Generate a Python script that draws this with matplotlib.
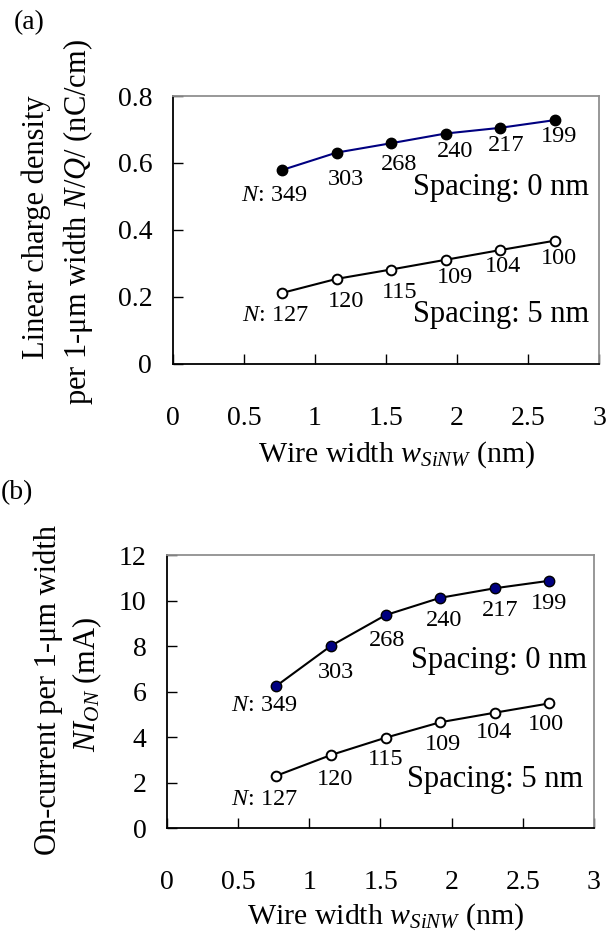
import matplotlib
matplotlib.use("Agg")
import matplotlib.pyplot as plt

plt.rcParams['font.family'] = ['Liberation Serif', 'DejaVu Serif']
plt.rcParams['mathtext.fontset'] = 'custom'
plt.rcParams['mathtext.rm'] = 'Liberation Serif'
plt.rcParams['mathtext.it'] = 'Liberation Serif:italic'

# data
width_nm = [0.768, 1.152, 1.536, 1.92, 2.304, 2.688]
charge_0nm = [0.579, 0.631, 0.659, 0.688, 0.705, 0.728]
charge_5nm = [0.212, 0.254, 0.282, 0.311, 0.340, 0.368]
ion_0nm = [6.25, 8.01, 9.36, 10.12, 10.54, 10.87]
ion_5nm = [2.30, 3.21, 3.97, 4.65, 5.07, 5.48]
n_0nm = ["349", "303", "268", "240", "217", "199"]
n_5nm = ["127", "120", "115", "109", "104", "100"]

x_ticks = [0, 0.5, 1, 1.5, 2, 2.5, 3]
x_ticklabels = ["0", "0.5", "1", "1.5", "2", "2.5", "3"]
ya_ticks = [0, 0.2, 0.4, 0.6, 0.8]
ya_ticklabels = ["0", "0.2", "0.4", "0.6", "0.8"]
yb_ticks = [0, 2, 4, 6, 8, 10, 12]
yb_ticklabels = ["0", "2", "4", "6", "8", "10", "12"]

NAVY = "#000080"

fig = plt.figure(figsize=(6.08, 9.33), dpi=100)
ax1 = fig.add_axes([0.2845, 0.6099, 0.7007, 0.2872])
ax2 = fig.add_axes([0.275, 0.1125, 0.7016, 0.2926])


def style_axes(ax, yticks, yticklabels, ymax):
    ax.set_xlim(0, 3)
    ax.set_ylim(0, ymax)
    ax.set_xticks(x_ticks)
    ax.set_xticklabels(x_ticklabels)
    ax.set_yticks(yticks)
    ax.set_yticklabels(yticklabels)
    ax.tick_params(axis='x', direction='in', length=7, width=1, pad=30, labelsize=20)
    ax.tick_params(axis='y', direction='in', length=7, width=1, pad=15, labelsize=20)
    for s in ['top', 'right']:
        ax.spines[s].set_color('#909090')
        ax.spines[s].set_linewidth(1.3)
    for s in ['left', 'bottom']:
        ax.spines[s].set_color('black')
        ax.spines[s].set_linewidth(1.3)


def label_points(ax, xs, ys, labels, offsets):
    for i, (x, y, lab) in enumerate(zip(xs, ys, labels)):
        txt = r"$N$: " + lab if i == 0 else lab
        ax.annotate(txt, (x, y), xytext=offsets[i], textcoords='offset points',
                    ha='center', va='center', fontsize=17.5)


# (a)
style_axes(ax1, ya_ticks, ya_ticklabels, 0.8)
ax1.plot(width_nm, charge_0nm, '-', color=NAVY, lw=1.5, zorder=2)
ax1.plot(width_nm, charge_0nm, 'o', mfc='black', mec='black', ms=7.5, zorder=3)
ax1.plot(width_nm, charge_5nm, '-o', color='black', mfc='white', mec='black',
         ms=7, mew=1.4, lw=1.5)
off_a0 = [(-5.5, -18), (7, -19), (5.5, -15), (6.5, -13), (4, -13), (3, -11.5)]
off_a5 = [(-4.5, -16), (7, -16), (6, -16.5), (7, -13), (2, -12), (3, -13)]
label_points(ax1, width_nm, charge_0nm, n_0nm, off_a0)
label_points(ax1, width_nm, charge_5nm, n_5nm, off_a5)
ax1.text(0.977, 0.657, "Spacing: 0 nm", transform=ax1.transAxes, ha='right', va='center', fontsize=22)
ax1.text(0.977, 0.183, "Spacing: 5 nm", transform=ax1.transAxes, ha='right', va='center', fontsize=22)
ax1.text(-0.322, 0.51, "Linear charge density", transform=ax1.transAxes, rotation=90,
         ha='center', va='center', fontsize=22)
ax1.text(-0.223, 0.53, r"per 1-μm width $N$/$Q$/ (nC/cm)", transform=ax1.transAxes, rotation=90,
         ha='center', va='center', fontsize=22)
ax1.text(0.526, -0.34, r"Wire width $w_{SiNW}$ (nm)", transform=ax1.transAxes,
         ha='center', va='center', fontsize=21.5)

# (b)
style_axes(ax2, yb_ticks, yb_ticklabels, 12)
ax2.plot(width_nm, ion_0nm, '-o', color='black', mfc=NAVY, mec='black',
         ms=7.5, mew=1.0, lw=1.5)
ax2.plot(width_nm, ion_5nm, '-o', color='black', mfc='white', mec='black',
         ms=7, mew=1.4, lw=1.5)
off_b0 = [(-8.6, -14), (3.6, -19.5), (1.2, -18), (2.7, -16), (3.8, -16.3), (-0.4, -16.3)]
off_b5 = [(-8.9, -17), (3.1, -17.5), (0.4, -15.6), (1.7, -16.3), (-0.7, -14.4), (-2.2, -15.1)]
label_points(ax2, width_nm, ion_0nm, n_0nm, off_b0)
label_points(ax2, width_nm, ion_5nm, n_5nm, off_b5)
ax2.text(0.985, 0.615, "Spacing: 0 nm", transform=ax2.transAxes, ha='right', va='center', fontsize=22)
ax2.text(0.975, 0.176, "Spacing: 5 nm", transform=ax2.transAxes, ha='right', va='center', fontsize=22)
ax2.text(-0.279, 0.505, "On-current per 1-μm width", transform=ax2.transAxes, rotation=90,
         ha='center', va='center', fontsize=22)
ax2.text(-0.188, 0.525, r"$NI_{ON}$ (mA)", transform=ax2.transAxes, rotation=90,
         ha='center', va='center', fontsize=22)
ax2.text(0.513, -0.326, r"Wire width $w_{SiNW}$ (nm)", transform=ax2.transAxes,
         ha='center', va='center', fontsize=21.5)

fig.text(0.022, 0.976, "(a)", ha='left', va='center', fontsize=20)
fig.text(0.002, 0.472, "(b)", ha='left', va='center', fontsize=20)

plt.savefig("out.png", dpi=100)
